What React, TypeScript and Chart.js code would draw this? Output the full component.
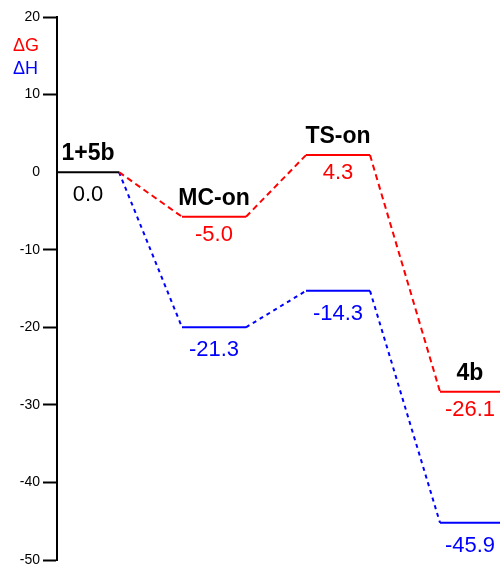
import React, { useEffect, useRef } from "react";
import { Chart, registerables } from "chart.js";

Chart.register(...registerables);

// ---- data ----
const states = ["1+5b", "MC-on", "TS-on", "4b"];
const xStart = [0, 125, 249, 383];
const xEnd = [62, 189, 313, 443];
// energies as printed in the picture
const dGLabels = ["0.0", "-5.0", "4.3", "-26.1"];
const dHLabels = ["0.0", "-21.3", "-14.3", "-45.9"];
// level heights as drawn in the picture
const dG = [0.0, -5.75, 2.2, -28.3];
const dH = [0.0, -20.0, -15.3, -45.2];
const yTicks = [20, 10, 0, -10, -20, -30, -40, -50];
const legendLabels = ["\u0394G", "\u0394H"];

const RED = "#ff0000";
const BLUE = "#0000ff";
const BLACK = "#000000";
const FONT = "'Liberation Sans', Arial, Helvetica, sans-serif";

export default function App() {
  const ref = useRef<HTMLCanvasElement | null>(null);

  useEffect(() => {
    if (!ref.current) return;
    const datasets: any[] = [];
    // levels
    states.forEach((s, i) => {
      if (dG[i] === dH[i]) {
        datasets.push({
          data: [{ x: xStart[i], y: dG[i] }, { x: xEnd[i], y: dG[i] }],
          borderColor: BLACK, borderWidth: 2, pointRadius: 0, order: 0,
        });
      } else {
        datasets.push({
          data: [{ x: xStart[i], y: dG[i] }, { x: xEnd[i], y: dG[i] }],
          borderColor: RED, borderWidth: 2, pointRadius: 0, order: 0,
        });
        datasets.push({
          data: [{ x: xStart[i], y: dH[i] }, { x: xEnd[i], y: dH[i] }],
          borderColor: BLUE, borderWidth: 2, pointRadius: 0, order: 0,
        });
      }
    });
    // connectors
    for (let i = 0; i < states.length - 1; i++) {
      datasets.push({
        data: [{ x: xEnd[i], y: dG[i] }, { x: xStart[i + 1], y: dG[i + 1] }],
        borderColor: RED, borderWidth: 2, borderDash: [6, 4], pointRadius: 0, order: 1,
      });
      datasets.push({
        data: [{ x: xEnd[i], y: dH[i] }, { x: xStart[i + 1], y: dH[i + 1] }],
        borderColor: BLUE, borderWidth: 2, borderDash: [4, 4], pointRadius: 0, order: 1,
      });
    }

    const textPlugin = {
      id: "energyText",
      afterDraw(chart: any) {
        const ctx = chart.ctx;
        const xs = chart.scales.x;
        const ys = chart.scales.y;
        ctx.save();
        // legend
        ctx.font = `18px ${FONT}`;
        ctx.textAlign = "left";
        ctx.textBaseline = "middle";
        ctx.fillStyle = RED;
        ctx.fillText(legendLabels[0], 13, 46);
        ctx.fillStyle = BLUE;
        ctx.fillText(legendLabels[1], 13, 69);

        states.forEach((s, i) => {
          const cx = (xs.getPixelForValue(xStart[i]) + xs.getPixelForValue(xEnd[i])) / 2;
          const top = ys.getPixelForValue(Math.max(dG[i], dH[i]));
          ctx.textAlign = "center";
          ctx.textBaseline = "alphabetic";
          ctx.fillStyle = BLACK;
          ctx.font = `bold 23px ${FONT}`;
          ctx.fillText(s, cx, top - 12);

          ctx.font = `22px ${FONT}`;
          ctx.textBaseline = "middle";
          if (dG[i] === dH[i]) {
            ctx.fillStyle = BLACK;
            ctx.fillText(dGLabels[i], cx, ys.getPixelForValue(dG[i]) + 23);
          } else {
            ctx.fillStyle = RED;
            ctx.fillText(dGLabels[i], cx, ys.getPixelForValue(dG[i]) + 18);
            ctx.fillStyle = BLUE;
            ctx.fillText(dHLabels[i], cx, ys.getPixelForValue(dH[i]) + 23);
          }
        });
        ctx.restore();
      },
    };

    const chart = new Chart(ref.current, {
      type: "line",
      data: { datasets },
      options: {
        animation: false,
        responsive: false,
        devicePixelRatio: 1,
        layout: { autoPadding: false, padding: { left: 0, right: 0, top: 17, bottom: 7 } },
        plugins: { legend: { display: false }, tooltip: { enabled: false } },
        scales: {
          x: { type: "linear", min: 0, max: 443, display: false },
          y: {
            type: "linear",
            min: yTicks[yTicks.length - 1],
            max: yTicks[0],
            afterBuildTicks: (scale: any) => {
              scale.ticks = yTicks.map((v) => ({ value: v }));
            },
            afterFit: (scale: any) => {
              scale.width = 57;
              scale.paddingTop = 0;
              scale.paddingBottom = 0;
            },
            ticks: {
              color: BLACK,
              font: { family: FONT, size: 14 },
              padding: 3,
            },
            grid: {
              drawOnChartArea: false,
              drawTicks: true,
              tickLength: 14,
              tickWidth: 2,
              tickColor: (c: any) => (c.tick && c.tick.value === 0 ? "rgba(0,0,0,0)" : BLACK),
            },
            border: { display: true, color: BLACK, width: 2 },
          },
        },
      },
      plugins: [textPlugin],
    });
    return () => chart.destroy();
  }, []);

  return (
    <div style={{ position: "absolute", left: 0, top: 0, width: 500, height: 567, background: "#fff" }}>
      <canvas ref={ref} width={500} height={567} style={{ display: "block" }} />
    </div>
  );
}
